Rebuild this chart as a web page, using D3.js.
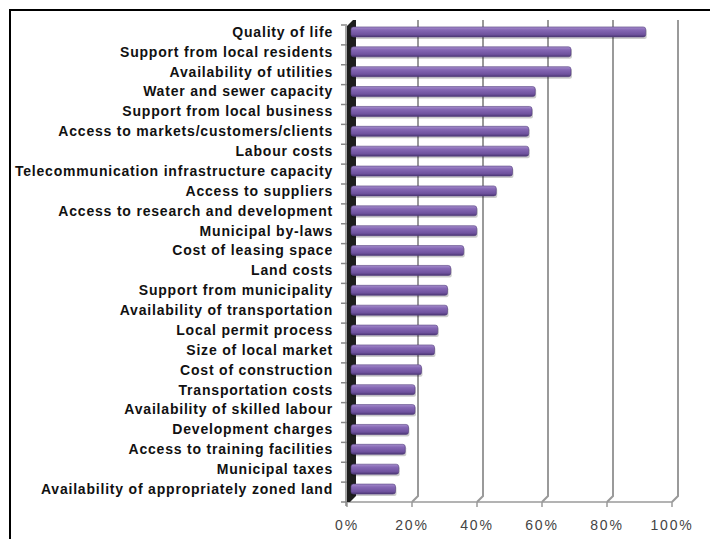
<!DOCTYPE html>
<html>
<head>
<meta charset="utf-8">
<script src="https://cdn.jsdelivr.net/npm/d3@7"></script>
<style>
  body { margin: 0; background: #fff; }
  svg { display: block; }
</style>
</head>
<body>
<svg id="chart" width="710" height="539"></svg>
<script>
'use strict';

var categories = [
  'Quality of life',
  'Support from local residents',
  'Availability of utilities',
  'Water and sewer capacity',
  'Support from local business',
  'Access to markets/customers/clients',
  'Labour costs',
  'Telecommunication infrastructure capacity',
  'Access to suppliers',
  'Access to research and development',
  'Municipal by-laws',
  'Cost of leasing space',
  'Land costs',
  'Support from municipality',
  'Availability of transportation',
  'Local permit process',
  'Size of local market',
  'Cost of construction',
  'Transportation costs',
  'Availability of skilled labour',
  'Development charges',
  'Access to training facilities',
  'Municipal taxes',
  'Availability of appropriately zoned land'
];

var values = [0.91, 0.68, 0.68, 0.57, 0.56, 0.55, 0.55, 0.50, 0.45, 0.39, 0.39, 0.35,
  0.31, 0.30, 0.30, 0.27, 0.26, 0.22, 0.20, 0.20, 0.18, 0.17, 0.15, 0.14];

var tickValues = [0, 0.2, 0.4, 0.6, 0.8, 1];

var data = categories.map(function(c, i) { return {name: c, value: values[i]}; });

var svg = d3.select('#chart');
var depth = 6; // 3d offset of back wall

var x = d3.scaleLinear().domain([0, 1]).range([347, 672]);
var y = d3.scaleBand().domain(categories).range([22, 499]).paddingInner(0.5).paddingOuter(0.25);
var yTicks = d3.scaleBand().domain(categories).range([22 + 3, 499 + 3]);

var floorY = 502;
var topY = 20;

// outer frame
svg.append('rect')
  .attr('x', 10).attr('y', 10)
  .attr('width', 720).attr('height', 560)
  .attr('fill', 'none')
  .attr('stroke', '#000')
  .attr('stroke-width', 2);

var defs = svg.append('defs');
var grad = defs.append('linearGradient')
  .attr('id', 'barGrad')
  .attr('x1', 0).attr('y1', 0).attr('x2', 0).attr('y2', 1);
grad.append('stop').attr('offset', '0%').attr('stop-color', '#a58dcc');
grad.append('stop').attr('offset', '30%').attr('stop-color', '#8567b4');
grad.append('stop').attr('offset', '75%').attr('stop-color', '#6f529e');
grad.append('stop').attr('offset', '100%').attr('stop-color', '#4a3572');

// gridlines: back wall + floor diagonal
var grid = svg.append('g').attr('class', 'grid');
grid.selectAll('path')
  .data(tickValues.slice(1))
  .enter()
  .append('path')
  .attr('fill', 'none')
  .attr('stroke', '#9a9a9a')
  .attr('stroke-width', 2)
  .attr('d', function(d) {
    var xb = x(d) + depth, xf = x(d);
    return 'M' + xb + ',' + topY + 'V' + (floorY - depth) + 'L' + xf + ',' + floorY;
  });

// floor front edge
svg.append('line')
  .attr('x1', x(0)).attr('x2', x(1))
  .attr('y1', floorY).attr('y2', floorY)
  .attr('stroke', '#9a9a9a')
  .attr('stroke-width', 1.5);

// x ticks
svg.append('g')
  .selectAll('line')
  .data(tickValues)
  .enter()
  .append('line')
  .attr('x1', function(d) { return x(d); })
  .attr('x2', function(d) { return x(d); })
  .attr('y1', floorY)
  .attr('y2', floorY + 5)
  .attr('stroke', '#9a9a9a')
  .attr('stroke-width', 1.5);

// left dark wall
svg.append('path')
  .attr('d', 'M' + x(0) + ',' + (topY + depth) + 'L' + (x(0) + depth) + ',' + topY +
    'L' + (x(0) + depth + 3) + ',' + topY + 'V' + (floorY - depth) +
    'L' + (x(0) + 3) + ',' + floorY + 'H' + x(0) + 'Z')
  .attr('fill', '#1e1e1e');

// y axis line & ticks
svg.append('line')
  .attr('x1', x(0) - 1).attr('x2', x(0) - 1)
  .attr('y1', topY + depth).attr('y2', floorY + 4)
  .attr('stroke', '#888')
  .attr('stroke-width', 1.5);

svg.append('g')
  .selectAll('line')
  .data(categories.concat(['_end']))
  .enter()
  .append('line')
  .attr('x1', x(0) - 6)
  .attr('x2', x(0))
  .attr('y1', function(d, i) { return yTicks.range()[0] + i * yTicks.step(); })
  .attr('y2', function(d, i) { return yTicks.range()[0] + i * yTicks.step(); })
  .attr('stroke', '#888')
  .attr('stroke-width', 1.5);

// bars
var bars = svg.append('g').attr('class', 'bars');
var bh = 10;
bars.selectAll('rect.shadow')
  .data(data)
  .enter()
  .append('rect')
  .attr('class', 'shadow')
  .attr('x', x(0) + 4)
  .attr('y', function(d) { return y(d.name) + y.bandwidth() / 2 - bh / 2 + 2; })
  .attr('width', function(d) { return x(d.value) - x(0); })
  .attr('height', bh)
  .attr('rx', 2)
  .attr('fill', '#000')
  .attr('opacity', 0.2);

bars.selectAll('rect.bar')
  .data(data)
  .enter()
  .append('rect')
  .attr('class', 'bar')
  .attr('x', x(0) + 4)
  .attr('y', function(d) { return y(d.name) + y.bandwidth() / 2 - bh / 2; })
  .attr('width', function(d) { return x(d.value) - x(0) - 1; })
  .attr('height', bh)
  .attr('rx', 2.5)
  .attr('fill', 'url(#barGrad)')
  .attr('stroke', '#55407f')
  .attr('stroke-width', 0.6);

// y labels
svg.append('g')
  .selectAll('text')
  .data(categories)
  .enter()
  .append('text')
  .attr('x', 333)
  .attr('y', function(d) { return y(d) + y.bandwidth() / 2; })
  .attr('dy', '0.35em')
  .attr('text-anchor', 'end')
  .attr('font-family', 'Liberation Sans, Arial, sans-serif')
  .attr('font-weight', 'bold')
  .attr('font-size', 14)
  .attr('letter-spacing', 0.8)
  .attr('fill', '#111')
  .text(function(d) { return d; });

// x labels
svg.append('g')
  .selectAll('text')
  .data(tickValues)
  .enter()
  .append('text')
  .attr('x', function(d) { return x(d); })
  .attr('y', 525)
  .attr('dy', '0.35em')
  .attr('text-anchor', 'middle')
  .attr('font-family', 'Liberation Sans, Arial, sans-serif')
  .attr('font-size', 14)
  .attr('letter-spacing', 1.8)
  .attr('fill', '#444')
  .text(d3.format('.0%'));
</script>
</body>
</html>
